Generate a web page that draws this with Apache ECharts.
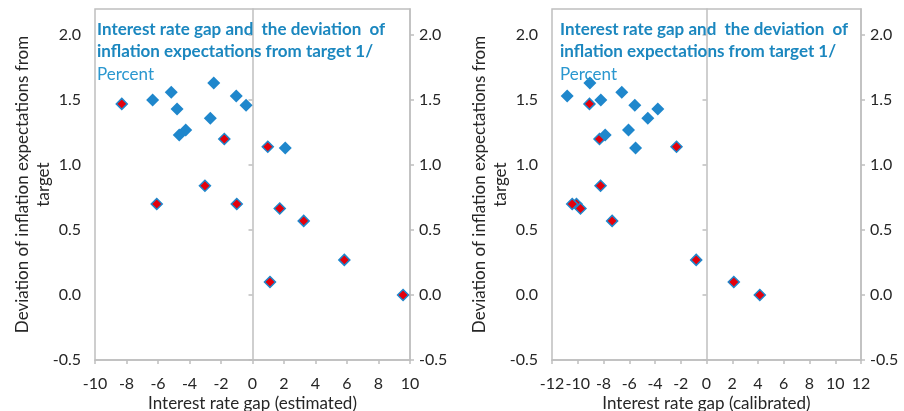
<!DOCTYPE html>
<html>
<head>
<meta charset="utf-8">
<script src="https://cdn.jsdelivr.net/npm/echarts@6/dist/echarts.min.js"></script>
<style>
  html, body { margin: 0; padding: 0; background: #ffffff; }
  #chart { width: 904px; height: 411px; }
</style>
</head>
<body>
<div id="chart"></div>
<script>
// Deviation of inflation expectations from target (percent), shared by both panels
const blueY = [1.63, 1.56, 1.53, 1.50, 1.46, 1.43, 1.36, 1.27, 1.23, 1.13];
const redY  = [1.47, 1.20, 1.14, 0.84, 0.70, 0.70, 0.665, 0.57, 0.27, 0.10, 0.0];

// Interest rate gap, estimated
const blueXEstimated = [-2.46, -5.16, -1.03, -6.34, -0.41, -4.79, -2.68, -4.24, -4.65, 2.08];
const redXEstimated  = [-8.30, -1.79, 0.97, -3.02, -1.0, -6.08, 1.73, 3.25, 5.83, 1.11, 9.56];

// Interest rate gap, calibrated
const blueXCalibrated = [-9.06, -6.58, -10.82, -8.21, -5.57, -3.78, -4.56, -6.06, -7.87, -5.51];
const redXCalibrated  = [-9.09, -8.31, -2.33, -8.23, -10.1, -10.43, -9.79, -7.33, -0.8, 2.12, 4.14];

// Axis ticks
const yTicks = [-0.5, 0, 0.5, 1.0, 1.5, 2.0];
const yRange = [-0.5, 2.2];
const xRangeEstimated = [-10, 10];
const xRangeCalibrated = [-12, 12];
const xStep = 2;

const panelTitle = 'Interest rate gap and  the deviation  of\ninflation expectations from target 1/';
const unitText = 'Percent';
const yName = 'Deviation of inflation expectations from\ntarget';
const xNames = ['Interest rate gap (estimated)', 'Interest rate gap (calibrated)'];

const FONT = 'Lato';
const GRAY = '#bfbfbf';
const TEXT = '#262626';
const BLUE = '#1f87cc';
const RED = '#e4000b';
const TICK_FS = 16;
const NAME_FS = 17;

const pairs = (xs, ys) => xs.map((x, i) => [x, ys[i]]);
const fmtY = v => v.toFixed(1);

function xAxisFor(gridIndex, range, name) {
  return {
    type: 'value', gridIndex, min: range[0], max: range[1], interval: xStep,
    name, nameLocation: 'middle', nameGap: 35, nameMoveOverlap: false,
    nameTextStyle: { fontFamily: FONT, fontSize: NAME_FS, color: TEXT },
    axisLine: { show: true, onZero: false, lineStyle: { color: GRAY, width: 1.5 } },
    axisTick: { show: true, length: 4, lineStyle: { color: GRAY, width: 1.5 } },
    axisLabel: { fontFamily: FONT, fontSize: TICK_FS, color: TEXT, margin: 16 },
    splitLine: { show: false }
  };
}

function yAxesFor(gridIndex) {
  const common = {
    type: 'value', gridIndex, min: yRange[0], max: yRange[1], interval: 0.5,
    splitLine: { show: false }
  };
  return [
    // vertical line through zero with its ticks
    Object.assign({}, common, {
      position: 'left',
      axisLine: { show: true, onZero: true, lineStyle: { color: GRAY, width: 1.5 } },
      axisTick: { show: true, length: 4, customValues: yTicks, lineStyle: { color: GRAY, width: 1.5 } },
      axisLabel: { show: false }
    }),
    // labels and title at the left edge of the plot
    Object.assign({}, common, {
      position: 'left',
      name: yName, nameLocation: 'middle', nameRotate: 90, nameGap: 41, nameMoveOverlap: false,
      nameTextStyle: { fontFamily: FONT, fontSize: NAME_FS, color: TEXT, lineHeight: 21, align: 'center' },
      axisLine: { show: false, onZero: false },
      axisTick: { show: false },
      axisLabel: { fontFamily: FONT, fontSize: TICK_FS, color: TEXT, margin: 14, customValues: yTicks, formatter: fmtY }
    }),
    // secondary axis on the right edge
    Object.assign({}, common, {
      position: 'right',
      axisLine: { show: true, onZero: false, lineStyle: { color: GRAY, width: 1.5 } },
      axisTick: { show: true, length: 4, customValues: yTicks, lineStyle: { color: GRAY, width: 1.5 } },
      axisLabel: { fontFamily: FONT, fontSize: TICK_FS, color: TEXT, margin: 9, customValues: yTicks, formatter: fmtY }
    })
  ];
}

function redSeries(xIndex, yIndex, data) {
  return {
    type: 'scatter', xAxisIndex: xIndex, yAxisIndex: yIndex, data,
    symbol: 'diamond', symbolSize: 11,
    itemStyle: { color: RED, borderColor: BLUE, borderWidth: 1.5, opacity: 1 },
    emphasis: { disabled: true }, z: 3
  };
}
function blueSeries(xIndex, yIndex, data) {
  return {
    type: 'scatter', xAxisIndex: xIndex, yAxisIndex: yIndex, data,
    symbol: 'diamond', symbolSize: 13,
    itemStyle: { color: BLUE, opacity: 1 },
    emphasis: { disabled: true }, z: 4
  };
}

function titleText(left) {
  return [
    { type: 'text', left, top: 19, z: 10,
      style: { text: panelTitle, font: 'bold 17px ' + FONT, fill: '#1b87bf', lineHeight: 22 } },
    { type: 'text', left, top: 64, z: 10,
      style: { text: unitText, font: '17px ' + FONT, fill: '#2a97cf', lineHeight: 22 } }
  ];
}

const gridBase = {
  top: 9, height: 351, show: true, borderColor: GRAY, borderWidth: 1.5,
  backgroundColor: 'transparent', containLabel: false, outerBoundsMode: 'none'
};

const chart = echarts.init(document.getElementById('chart'), null, { renderer: 'canvas' });
chart.setOption({
  animation: false,
  backgroundColor: '#ffffff',
  grid: [
    Object.assign({ left: 95, width: 315 }, gridBase),
    Object.assign({ left: 552, width: 309 }, gridBase)
  ],
  xAxis: [
    xAxisFor(0, xRangeEstimated, xNames[0]),
    xAxisFor(1, xRangeCalibrated, xNames[1])
  ],
  yAxis: yAxesFor(0).concat(yAxesFor(1)),
  series: [
    redSeries(0, 0, pairs(redXEstimated, redY)),
    blueSeries(0, 0, pairs(blueXEstimated, blueY)),
    redSeries(1, 3, pairs(redXCalibrated, redY)),
    blueSeries(1, 3, pairs(blueXCalibrated, blueY))
  ],
  graphic: titleText(97).concat(titleText(560))
});
</script>
</body>
</html>
